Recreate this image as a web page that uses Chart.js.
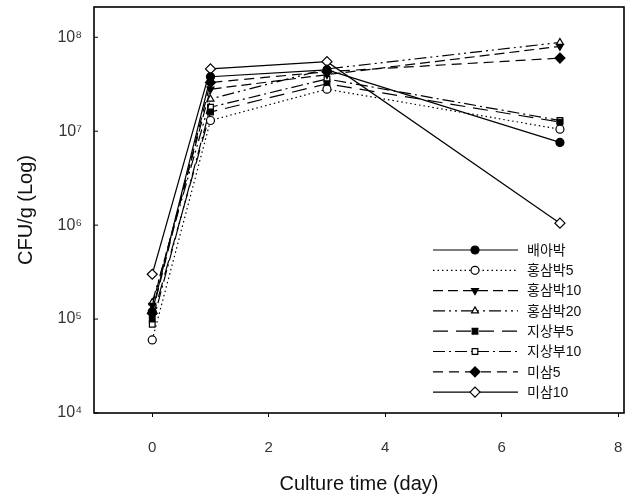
<!DOCTYPE html>
<html><head><meta charset="utf-8">
<script src="https://cdn.jsdelivr.net/npm/chart.js@4/dist/chart.umd.min.js"></script>
<style>html,body{margin:0;padding:0;background:#fff}#wrap{width:631px;height:500px}</style>
</head><body><div id="wrap"><canvas id="c" width="631" height="500"></canvas></div>
<script>
const days = [0, 1, 3, 7];
const seriesNames = ['배아박','홍삼박5','홍삼박10','홍삼박20','지상부5','지상부10','미삼5','미삼10'];
const s_baeabak  = [1.2e5, 3.8e7, 4.5e7, 7.6e6];
const s_hong5    = [6.0e4, 1.3e7, 2.8e7, 1.05e7];
const s_hong10   = [1.4e5, 2.8e7, 4.0e7, 8.0e7];
const s_hong20   = [1.5e5, 2.2e7, 4.6e7, 8.8e7];
const s_jisang5  = [1.0e5, 1.6e7, 3.2e7, 1.25e7];
const s_jisang10 = [8.8e4, 1.8e7, 3.6e7, 1.3e7];
const s_misam5   = [1.15e5, 3.3e7, 4.3e7, 6.0e7];
const s_misam10  = [3.0e5, 4.6e7, 5.5e7, 1.05e6];
const xTicks = [0, 2, 4, 6, 8];
const yTicks = [1e4, 1e5, 1e6, 1e7, 1e8];

const allSeries = [s_baeabak, s_hong5, s_hong10, s_hong20, s_jisang5, s_jisang10, s_misam5, s_misam10];
const styles = [
  {dash: [], style: 'circle', fill: true, rot: 0},
  {dash: [1.5, 3], style: 'circle', fill: false, rot: 0},
  {dash: [10, 5], style: 'triangle', fill: true, rot: 180},
  {dash: [12, 4, 2, 4, 2, 4], style: 'triangle', fill: false, rot: 0},
  {dash: [15, 8], style: 'rect', fill: true, rot: 0},
  {dash: [12, 4, 2, 4], style: 'rect', fill: false, rot: 0},
  {dash: [10, 6], style: 'rectRot', fill: true, rot: 0},
  {dash: [], style: 'rectRot', fill: false, rot: 0}
];
const FONT = "Arial, 'Liberation Sans', 'Noto Sans CJK KR', sans-serif";
const sup = {'0':'⁰','1':'¹','2':'²','3':'³','4':'⁴','5':'⁵','6':'⁶','7':'⁷','8':'⁸','9':'⁹'};

const datasets = allSeries.map((vals, i) => ({
  label: seriesNames[i],
  data: vals.map((v, j) => ({x: days[j], y: v})),
  borderColor: '#000',
  borderWidth: 1.2,
  borderDash: styles[i].dash,
  pointStyle: styles[i].style,
  pointRotation: styles[i].rot,
  pointRadius: styles[i].style === 'rectRot' ? 5 : 4,
  pointBorderWidth: 1.2,
  pointBorderColor: '#000',
  pointBackgroundColor: styles[i].fill ? '#000' : '#fff',
  tension: 0,
  fill: false
}));

const framePlugin = {
  id: 'frame',
  afterDatasetsDraw(chart) {
    const {ctx, chartArea: a, scales} = chart;
    ctx.save();
    ctx.strokeStyle = '#000';
    ctx.lineWidth = 1.6;
    ctx.setLineDash([]);
    ctx.strokeRect(a.left, a.top, a.right - a.left, a.bottom - a.top);
    ctx.lineWidth = 1;
    yTicks.forEach(v => {
      const y = scales.y.getPixelForValue(v);
      ctx.beginPath(); ctx.moveTo(a.left, y); ctx.lineTo(a.left + 4, y); ctx.stroke();
    });
    const lx0 = 433, lx1 = 518, mx = 475, tx = 527, y0 = 250, dy = 20.3;
    chart.data.datasets.forEach((ds, i) => {
      const y = y0 + dy * i;
      ctx.strokeStyle = '#000';
      ctx.lineWidth = 1.2;
      ctx.setLineDash(ds.borderDash);
      ctx.beginPath(); ctx.moveTo(lx0, y); ctx.lineTo(lx1, y); ctx.stroke();
      ctx.setLineDash([]);
      ctx.fillStyle = ds.pointBackgroundColor;
      ctx.strokeStyle = '#000';
      ctx.lineWidth = 1.2;
      Chart.helpers.drawPoint(ctx, {pointStyle: ds.pointStyle, rotation: ds.pointRotation, radius: ds.pointRadius, borderWidth: 1.2}, mx, y);
      ctx.fillStyle = '#111';
      ctx.font = "14px " + FONT;
      ctx.textAlign = 'left';
      ctx.textBaseline = 'middle';
      ctx.fillText(ds.label, tx, y + 1);
    });
    ctx.restore();
  }
};

new Chart(document.getElementById('c'), {
  type: 'line',
  data: {datasets},
  plugins: [framePlugin],
  options: {
    responsive: false,
    animation: false,
    layout: {padding: {top: 7, right: 7, left: 0, bottom: 0}},
    plugins: {legend: {display: false}, tooltip: {enabled: false}},
    scales: {
      x: {
        type: 'linear', min: -1, max: 8.1,
        afterBuildTicks: s => { s.ticks = xTicks.map(v => ({value: v})); },
        afterFit: s => { s.height = 87; s.paddingLeft = 0; s.paddingRight = 0; },
        border: {display: false},
        grid: {display: true, drawOnChartArea: false, drawTicks: true, tickLength: 4, color: '#000', lineWidth: 1},
        ticks: {color: '#333', font: {family: FONT, size: 15}, padding: 22},
        title: {display: true, text: 'Culture time (day)', color: '#111', font: {family: FONT, size: 20}, padding: {top: 0}}
      },
      y: {
        type: 'logarithmic', min: 1e4, max: 2.1e8,
        afterBuildTicks: s => { s.ticks = yTicks.map(v => ({value: v})); },
        afterFit: s => { s.width = 94; s.paddingTop = 0; s.paddingBottom = 0; },
        border: {display: false},
        grid: {display: false},
        ticks: {color: '#333', font: {family: FONT, size: 16}, padding: 4,
          callback: v => '10' + String(Math.round(Math.log10(v))).split('').map(c => sup[c]).join('')},
        title: {display: true, text: 'CFU/g (Log)', color: '#111', font: {family: FONT, size: 20}, padding: {top: 14, bottom: 0}}
      }
    }
  }
});
</script></body></html>
